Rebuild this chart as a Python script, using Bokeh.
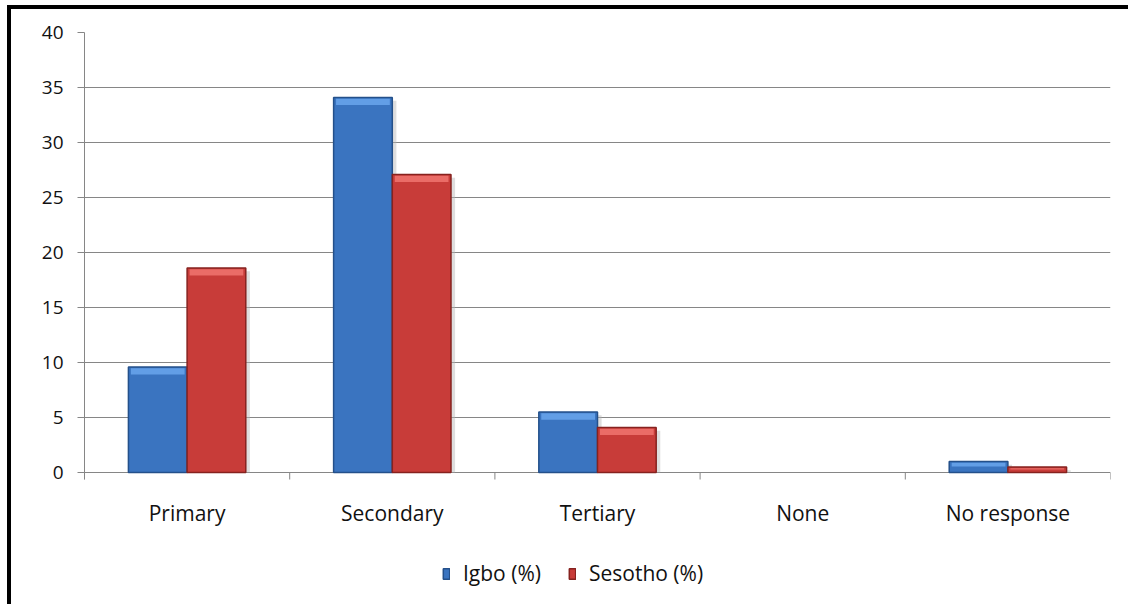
import numpy as np
from bokeh.plotting import figure
from bokeh.models import Range1d, FixedTicker, Legend, LegendItem, ColumnDataSource
from bokeh.core.properties import value
from bokeh.embed import file_html
from bokeh.resources import INLINE

# ---- data ---------------------------------------------------------------
categories = ["Primary", "Secondary", "Tertiary", "None", "No response"]
igbo = [9.6, 34.1, 5.5, 0.0, 1.0]
sesotho = [18.6, 27.1, 4.1, 0.0, 0.5]
series_names = ["Igbo (%)", "Sesotho (%)"]
y_ticks = [0, 5, 10, 15, 20, 25, 30, 35, 40]

FONT = "Open Sans"
TEXT = "#111111"
AXIS = "#868686"

# layout in pixels: value axis from 0 (y=463 on the canvas) to 40 (y=23)
PX_PER_UNIT = 11.0
CANVAS_H = 599
FRAME_TOP = 23
ZERO_Y = FRAME_TOP + 40 * PX_PER_UNIT
y_low = -(CANVAS_H - ZERO_Y) / PX_PER_UNIT      # room under the baseline for labels/legend
px = 1.0 / PX_PER_UNIT

centers = np.arange(len(categories)) + 0.5
bar_w = 0.286
offsets = [-bar_w / 2, bar_w / 2]

# the canvas sits inside a black top/left rule drawn by CSS borders
p = figure(width=1121, height=CANVAS_H, output_backend="svg", toolbar_location=None,
           x_range=Range1d(0, len(categories)), y_range=Range1d(y_low, 40),
           min_border_left=73, min_border_right=22, min_border_top=FRAME_TOP,
           min_border_bottom=0)
p.styles = {"border-left": "4px solid black", "border-top": "4px solid black",
            "margin-left": "7px", "margin-top": "5px"}
p.outline_line_color = None
p.background_fill_color = "white"
p.border_fill_color = "white"
p.xaxis.visible = False

# value axis and gridlines
p.xgrid.grid_line_color = None
p.ygrid.grid_line_color = AXIS
p.ygrid.grid_line_width = 1
p.ygrid.ticker = FixedTicker(ticks=y_ticks)

p.yaxis.ticker = FixedTicker(ticks=y_ticks)
p.yaxis.bounds = (-7 * px, 40)
p.yaxis.axis_line_color = AXIS
p.yaxis.major_tick_line_color = AXIS
p.yaxis.major_tick_out = 7
p.yaxis.major_tick_in = 0
p.yaxis.minor_tick_line_color = None
p.yaxis.major_label_standoff = 14
p.yaxis.major_label_text_font = FONT
p.yaxis.major_label_text_font_size = "19px"
p.yaxis.major_label_text_color = TEXT

# category axis: boundary ticks below the baseline and centred labels
bounds_x = np.arange(len(categories) + 1)
p.segment(x0=bounds_x, y0=np.zeros(len(bounds_x)), x1=bounds_x,
          y1=np.full(len(bounds_x), -7 * px), line_color=AXIS, line_width=1)
p.text(x=centers, y=np.full(len(categories), -40 * px), text=categories,
       text_align="center", text_baseline="middle",
       text_font=value(FONT), text_font_size="21px", text_color=TEXT)

# bevelled bars
styles = [
    dict(fill="#3a74c0", line="#24508a", hi="#6aa6ec", shadow="#b5b5b5"),
    dict(fill="#c83c39", line="#86221f", hi="#f07470", shadow="#b5b5b5"),
]
renderers = []
for vals, off, st in zip([igbo, sesotho], offsets, styles):
    vals = np.array(vals, dtype=float)
    x = centers + off
    line_alpha = np.where(vals > 0, 1.0, 0.0)
    src = ColumnDataSource(dict(x=x, top=vals, la=line_alpha))
    # soft drop shadow on the right
    sh = ColumnDataSource(dict(x=x + 0.02, top=np.maximum(vals - 0.3, 0)))
    p.vbar(x="x", top="top", bottom=0, width=bar_w, source=sh,
           fill_color=st["shadow"], fill_alpha=0.45, line_color=None)
    r = p.vbar(x="x", top="top", bottom=0, width=bar_w, source=src,
               fill_color=st["fill"], line_color=st["line"], line_alpha="la",
               line_width=1.5)
    renderers.append(r)
    # top highlight band
    keep = vals > 0
    band = np.minimum(0.7, vals * 0.45)[keep]
    xk = x[keep]
    hsrc = ColumnDataSource(dict(left=xk - bar_w / 2 + 0.012, right=xk + bar_w / 2 - 0.012,
                                 top=vals[keep] - 0.12, bottom=vals[keep] - band))
    p.quad(left="left", right="right", top="top", bottom="bottom", source=hsrc,
           fill_color=st["hi"], fill_alpha=0.85, line_color=None)

legend = Legend(items=[LegendItem(label=n, renderers=[r]) for n, r in zip(series_names, renderers)],
                orientation="horizontal", location=(358, 21),
                glyph_width=8, glyph_height=13, label_standoff=13, spacing=27,
                padding=0, margin=0, border_line_color=None,
                background_fill_alpha=0,
                label_text_font=FONT, label_text_font_size="21px",
                label_text_color=TEXT)
p.add_layout(legend, "center")

open("out.html", "w").write(file_html(p, INLINE))
